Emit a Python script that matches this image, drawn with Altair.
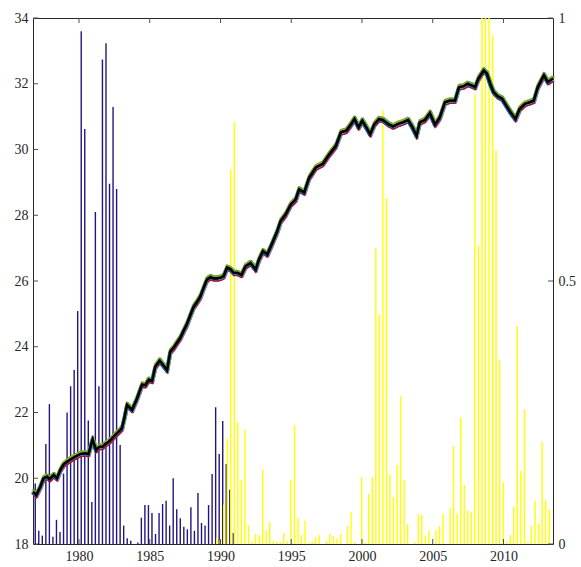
import altair as alt
import pandas as pd

# ---------------- data ----------------
line_years = [1976.75, 1976.98, 1977.27, 1977.50, 1977.74, 1977.92, 1978.21, 1978.45, 1978.68, 1978.91,
              1979.15, 1979.39, 1979.74, 1980.10, 1980.45, 1980.68, 1980.96, 1981.21, 1981.44, 1981.67,
              1981.86, 1982.10, 1982.34, 1982.57, 1982.80, 1983.04, 1983.23, 1983.40, 1983.75, 1984.10,
              1984.46, 1984.69, 1984.93, 1985.17, 1985.40, 1985.70, 1985.99, 1986.23, 1986.46, 1986.69,
              1986.93, 1987.17, 1987.40, 1987.64, 1987.87, 1988.11, 1988.35, 1988.58, 1988.81, 1989.05,
              1989.29, 1989.52, 1989.76, 1989.99, 1990.23, 1990.47, 1990.70, 1990.94, 1991.18, 1991.49,
              1991.77, 1992.12, 1992.49, 1992.72, 1993.00, 1993.31, 1993.67, 1994.02, 1994.26, 1994.61,
              1994.97, 1995.33, 1995.56, 1995.92, 1996.28, 1996.75, 1997.22, 1997.70, 1998.17, 1998.52,
              1998.88, 1999.16, 1999.47, 1999.76, 2000.02, 2000.30, 2000.58, 2000.89, 2001.20, 2001.49,
              2001.84, 2002.20, 2002.55, 2002.91, 2003.26, 2003.57, 2003.86, 2004.09, 2004.44, 2004.80,
              2005.16, 2005.51, 2005.87, 2006.23, 2006.58, 2006.86, 2007.17, 2007.46, 2007.76, 2008.00,
              2008.23, 2008.60, 2008.83, 2009.07, 2009.30, 2009.59, 2009.90, 2010.20, 2010.49, 2010.85,
              2011.15, 2011.51, 2011.86, 2012.15, 2012.43, 2012.86, 2013.14, 2013.50]

line_values = [19.59, 19.49, 19.74, 20.00, 20.05, 19.97, 20.10, 20.00, 20.25, 20.42,
               20.50, 20.57, 20.66, 20.74, 20.76, 20.74, 21.18, 20.86, 20.96, 20.96,
               21.04, 21.11, 21.21, 21.32, 21.42, 21.52, 21.87, 22.23, 22.08, 22.42,
               22.85, 22.83, 23.00, 22.96, 23.40, 23.58, 23.42, 23.29, 23.86, 23.97,
               24.13, 24.28, 24.49, 24.70, 24.96, 25.22, 25.37, 25.53, 25.79, 26.05,
               26.12, 26.08, 26.08, 26.10, 26.15, 26.41, 26.36, 26.25, 26.25, 26.19,
               26.45, 26.55, 26.35, 26.65, 26.91, 26.81, 27.16, 27.52, 27.83, 28.03,
               28.33, 28.49, 28.79, 28.69, 29.15, 29.46, 29.56, 29.86, 30.12, 30.53,
               30.57, 30.73, 30.93, 30.68, 30.88, 30.68, 30.47, 30.78, 30.93, 30.90,
               30.78, 30.70, 30.78, 30.83, 30.90, 30.68, 30.42, 30.83, 30.90, 31.11,
               30.76, 30.98, 31.44, 31.49, 31.49, 31.90, 31.92, 32.00, 31.95, 31.90,
               32.16, 32.41, 32.31, 32.00, 31.75, 31.62, 31.55, 31.34, 31.14, 30.93,
               31.24, 31.39, 31.44, 31.49, 31.90, 32.26, 32.05, 32.16]

# quarterly regime probabilities, 1977Q1 .. 2013Q2
quarters = [1977 + k / 4 for k in range(146)]

prob_blue = [0.115, 0.025, 0.016, 0.19, 0.266, 0.014, 0.046, 0.023, 0.134, 0.25,
             0.30, 0.331, 0.443, 0.975, 0.789, 0.235, 0.08, 0.631, 0.30, 0.921,
             0.952, 0.685, 0.831, 0.675, 0.188, 0.035, 0.011, 0.006, 0.0, 0.003,
             0.05, 0.074, 0.074, 0.059, 0.019, 0.059, 0.076, 0.082, 0.035, 0.125,
             0.066, 0.049, 0.033, 0.028, 0.070, 0.025, 0.097, 0.04, 0.035, 0.074,
             0.133, 0.26, 0.171, 0.234, 0.152, 0.103, 0.021] + [0.0] * 89

prob_yellow = [0.0] * 51 + [
    0.011, 0.008, 0.075, 0.2, 0.712, 0.803, 0.232, 0.122, 0.217, 0.036,
    0.005, 0.019, 0.017, 0.141, 0.025, 0.042, 0.006, 0.004, 0.004, 0.021,
    0.006, 0.122, 0.226, 0.049, 0.017, 0.044, 0.002, 0.005, 0.013, 0.017,
    0.0, 0.006, 0.019, 0.015, 0.011, 0.019, 0.0, 0.034, 0.061, 0.004,
    0.0, 0.127, 0.004, 0.095, 0.127, 0.563, 0.436, 0.824, 0.658, 0.132,
    0.089, 0.15, 0.281, 0.122, 0.038, 0.0, 0.004, 0.057, 0.055, 0.015,
    0.025, 0.0, 0.026, 0.034, 0.057, 0.0, 0.068, 0.186, 0.057, 0.241,
    0.112, 0.064, 0.06, 0.855, 0.567, 1.0, 1.0, 1.0, 0.967, 0.749,
    0.35, 0.117, 0.005, 0.017, 0.071, 0.414, 0.139, 0.256, 0.004, 0.034,
    0.082, 0.039, 0.195, 0.084, 0.066]

x_ticks = [1980, 1985, 1990, 1995, 2000, 2005, 2010]
left_ticks = [18, 20, 22, 24, 26, 28, 30, 32, 34]
right_ticks = [0, 0.5, 1]

# ---------------- styling ----------------
W, H = 520, 526
FONT = "Liberation Serif"
AX = "#262626"
TICK = "#4d4d4d"
BLUE = "#24157e"
YELLOW = "#ffff00"
fuzz = [("#0072BD", -2.2, 0.8), ("#D95319", 2.0, -0.8), ("#EDB120", -1.3, -1.2),
        ("#7E2F8E", 2.4, 1.2), ("#77AC30", -2.6, -0.5), ("#4DBEEE", 1.3, 1.3),
        ("#A2142F", 2.8, 0.0), ("#0072BD", 1.0, -1.5), ("#77AC30", -1.6, 1.5)]

line_df = pd.DataFrame({"year": line_years, "value": line_values})
bar_df = pd.DataFrame({"year": quarters, "blue": prob_blue, "yellow": prob_yellow})
xt_df = pd.DataFrame({"year": x_ticks})
lt_df = pd.DataFrame({"value": left_ticks})
rt_df = pd.DataFrame({"p": right_ticks})

x_scale = alt.Scale(domain=[1976.75, 2013.5], nice=False, zero=False)
x_axis = alt.Axis(values=x_ticks, format="d", ticks=False, domain=False, grid=False,
                  labelPadding=5, title=None)
yl_scale = alt.Scale(domain=[18, 34], nice=False, zero=False)
yl_axis = alt.Axis(orient="left", values=left_ticks, format="d", ticks=False, domain=False,
                   grid=False, labelPadding=5, title=None)
yr_scale = alt.Scale(domain=[0, 1], nice=False, zero=False)
yr_axis = alt.Axis(orient="right", values=right_ticks, format="~g", ticks=False, domain=False,
                   grid=False, labelPadding=5, title=None)

X = alt.X("year:Q", scale=x_scale, axis=x_axis)

# right-axis group: probability stems
blue_bars = alt.Chart(bar_df).transform_filter("datum.blue > 0").mark_rule(
    color=BLUE, strokeWidth=1.4, xOffset=-1.3
).encode(x=X, y=alt.Y("blue:Q", scale=yr_scale, axis=yr_axis), y2=alt.datum(0))

yellow_bars = alt.Chart(bar_df).transform_filter("datum.yellow > 0").mark_rule(
    color=YELLOW, strokeWidth=1.4, xOffset=-0.3
).encode(x=X, y=alt.Y("yellow:Q", scale=yr_scale, axis=yr_axis), y2=alt.datum(0))

r_ticks = alt.Chart(rt_df).mark_rule(color=TICK, strokeWidth=1).encode(
    y=alt.Y("p:Q", scale=yr_scale, axis=yr_axis), x=alt.value(W), x2=alt.value(W - 5))

right_group = alt.layer(blue_bars, yellow_bars, r_ticks)

# left-axis group: series
YL = alt.Y("value:Q", scale=yl_scale, axis=yl_axis)
fuzz_layers = [
    alt.Chart(line_df).mark_line(color=c, strokeWidth=1.3, yOffset=dy, xOffset=dx).encode(x=X, y=YL)
    for c, dy, dx in fuzz
]
black_line = alt.Chart(line_df).mark_line(color="black", strokeWidth=2.6).encode(x=X, y=YL)

l_ticks = alt.Chart(lt_df).mark_rule(color=TICK, strokeWidth=1).encode(
    y=YL, x=alt.value(0), x2=alt.value(5))
xb_ticks = alt.Chart(xt_df).mark_rule(color=TICK, strokeWidth=1).encode(
    x=X, y=alt.value(H), y2=alt.value(H - 5))
xt_ticks = alt.Chart(xt_df).mark_rule(color=TICK, strokeWidth=1).encode(
    x=X, y=alt.value(0), y2=alt.value(5))

left_group = alt.layer(*fuzz_layers, black_line, l_ticks, xb_ticks, xt_ticks)

chart = alt.layer(right_group, left_group).resolve_scale(y="independent").properties(
    width=W, height=H,
    autosize=alt.AutoSizeParams(type="none"),
    padding={"left": 33, "top": 18, "right": 28, "bottom": 23},
    background="white",
).configure_view(stroke=AX, strokeWidth=1).configure_axis(
    labelFont=FONT, labelFontSize=14, labelColor=AX
)

chart.save("out.html", embed_options={"renderer": "svg", "actions": False})
